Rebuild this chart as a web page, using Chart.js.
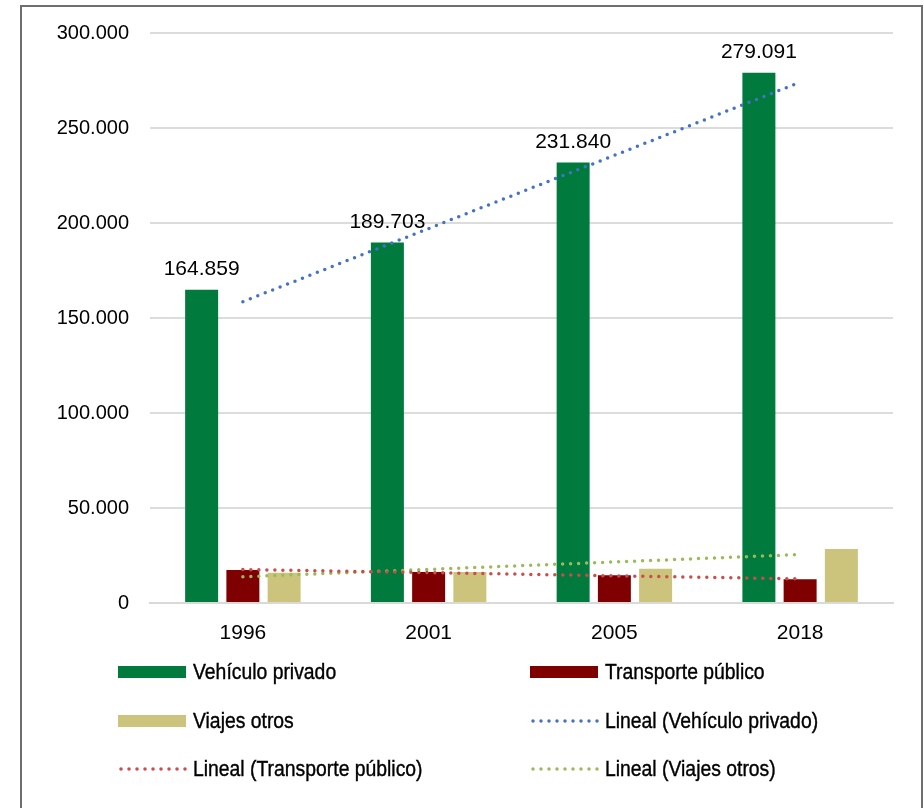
<!DOCTYPE html>
<html>
<head>
<meta charset="utf-8">
<script src="https://cdn.jsdelivr.net/npm/chart.js@4/dist/chart.umd.min.js"></script>
<style>
	body { margin: 0; background: #fff; }
	#wrap { position: relative; width: 924px; height: 808px; overflow: hidden; }
	#frame { position: absolute; left: 20px; top: 5px; width: 903px; height: 820px; border: 2px solid #6e6e6e; box-sizing: border-box; pointer-events: none; }
	canvas { position: absolute; left: 0; top: 0; }
</style>
</head>
<body>
<div id="wrap">
	<canvas id="chart" width="924" height="808"></canvas>
	<div id="frame"></div>
</div>
<script>
// values
const years = ['1996', '2001', '2005', '2018'];
const vehiculoPrivado = [164859, 189703, 231840, 279091];
const transportePublico = [17400, 16300, 14550, 12500];
const viajesOtros = [15950, 16300, 18050, 28400];
// trend lines ("Lineal") as they appear in the picture
const linealVehiculo = [158600, 197100, 235600, 274100];
const linealTransporte = [17600, 16000, 14300, 12700];
const linealViajes = [13800, 17700, 21600, 25500];

const yTicks = { min: 0, max: 300000, step: 50000 };

function fmt(v) {
	return String(Math.round(v)).replace(/\B(?=(\d{3})+(?!\d))/g, '.');
}

const numFont = '"Liberation Sans", Arial, sans-serif';

// labels on top of the green bars
const barValuePlugin = {
	id: 'barValues',
	afterDatasetsDraw(chart) {
		let ctx = chart.ctx;
		let meta = chart.getDatasetMeta(0);
		ctx.save();
		ctx.font = '21px ' + numFont;
		ctx.fillStyle = '#000';
		ctx.textAlign = 'center';
		ctx.textBaseline = 'alphabetic';
		meta.data.forEach(function (bar, i) {
			ctx.fillText(fmt(chart.data.datasets[0].data[i]), bar.x, bar.y - 15);
		});
		ctx.restore();
	}
};

// two column legend under the chart, text squeezed like a narrow face
const legendPlugin = {
	id: 'gridLegend',
	afterDraw(chart) {
		let ctx = chart.ctx;
		let area = chart.chartArea;
		let cols = [area.left - 32, area.left + 380];
		let rows = [area.bottom + 69, area.bottom + 118, area.bottom + 166];
		let squeeze = 0.88;
		ctx.save();
		ctx.font = '22px ' + numFont;
		ctx.textBaseline = 'middle';
		ctx.textAlign = 'left';
		chart.data.datasets.forEach(function (ds, i) {
			let x = cols[i % 2];
			let y = rows[Math.floor(i / 2)];
			if (ds.type === 'line') {
				ctx.strokeStyle = ds.borderColor;
				ctx.lineWidth = 3.5;
				ctx.lineCap = 'round';
				ctx.setLineDash([0, 8]);
				ctx.beginPath();
				ctx.moveTo(x + 3, y);
				ctx.lineTo(x + 68, y);
				ctx.stroke();
				ctx.setLineDash([]);
			} else {
				ctx.fillStyle = ds.backgroundColor;
				ctx.fillRect(x, y - 6, 68, 12);
			}
			ctx.save();
			ctx.translate(x + 75, y + 1);
			ctx.scale(squeeze, 1);
			ctx.fillStyle = '#000';
			ctx.strokeStyle = '#000';
			ctx.lineWidth = 0.4;
			ctx.fillText(ds.label, 0, 0);
			ctx.strokeText(ds.label, 0, 0);
			ctx.restore();
		});
		ctx.restore();
	}
};

function trend(label, data, color) {
	return {
		type: 'line',
		label: label,
		data: data,
		borderColor: color,
		borderWidth: 3.5,
		borderDash: [0, 8],
		borderCapStyle: 'round',
		pointRadius: 0,
		fill: false,
		tension: 0,
		order: -1
	};
}

new Chart(document.getElementById('chart'), {
	type: 'bar',
	data: {
		labels: years,
		datasets: [
			{ type: 'bar', label: 'Vehículo privado', data: vehiculoPrivado, backgroundColor: '#007a3d' },
			{ type: 'bar', label: 'Transporte público', data: transportePublico, backgroundColor: '#7f0000' },
			{ type: 'bar', label: 'Viajes otros', data: viajesOtros, backgroundColor: '#ccc47c' },
			trend('Lineal (Vehículo privado)', linealVehiculo, '#4472c4'),
			trend('Lineal (Transporte público)', linealTransporte, '#cf4a4a'),
			trend('Lineal (Viajes otros)', linealViajes, '#9bbb59')
		]
	},
	options: {
		responsive: false,
		animation: false,
		categoryPercentage: 0.666,
		barPercentage: 0.8,
		layout: { padding: { left: 0, right: 31, top: 32, bottom: 145 } },
		plugins: {
			legend: { display: false },
			tooltip: { enabled: false }
		},
		scales: {
			x: {
				grid: { display: false, drawTicks: false },
				border: { display: true, color: '#d9d9d9', width: 2 },
				ticks: { color: '#000', font: { family: numFont, size: 21 }, padding: 18 },
				afterFit: function (scale) { scale.height = 60; }
			},
			y: {
				min: yTicks.min,
				max: yTicks.max,
				grid: { color: '#dcdcdc', lineWidth: 2, drawTicks: false },
				border: { display: false },
				ticks: {
					stepSize: yTicks.step,
					color: '#000',
					font: { family: numFont, size: 20 },
					padding: 21,
					callback: function (v) { return fmt(v); }
				},
				afterFit: function (scale) { scale.width = 150; }
			}
		}
	},
	plugins: [barValuePlugin, legendPlugin]
});
</script>
</body>
</html>
